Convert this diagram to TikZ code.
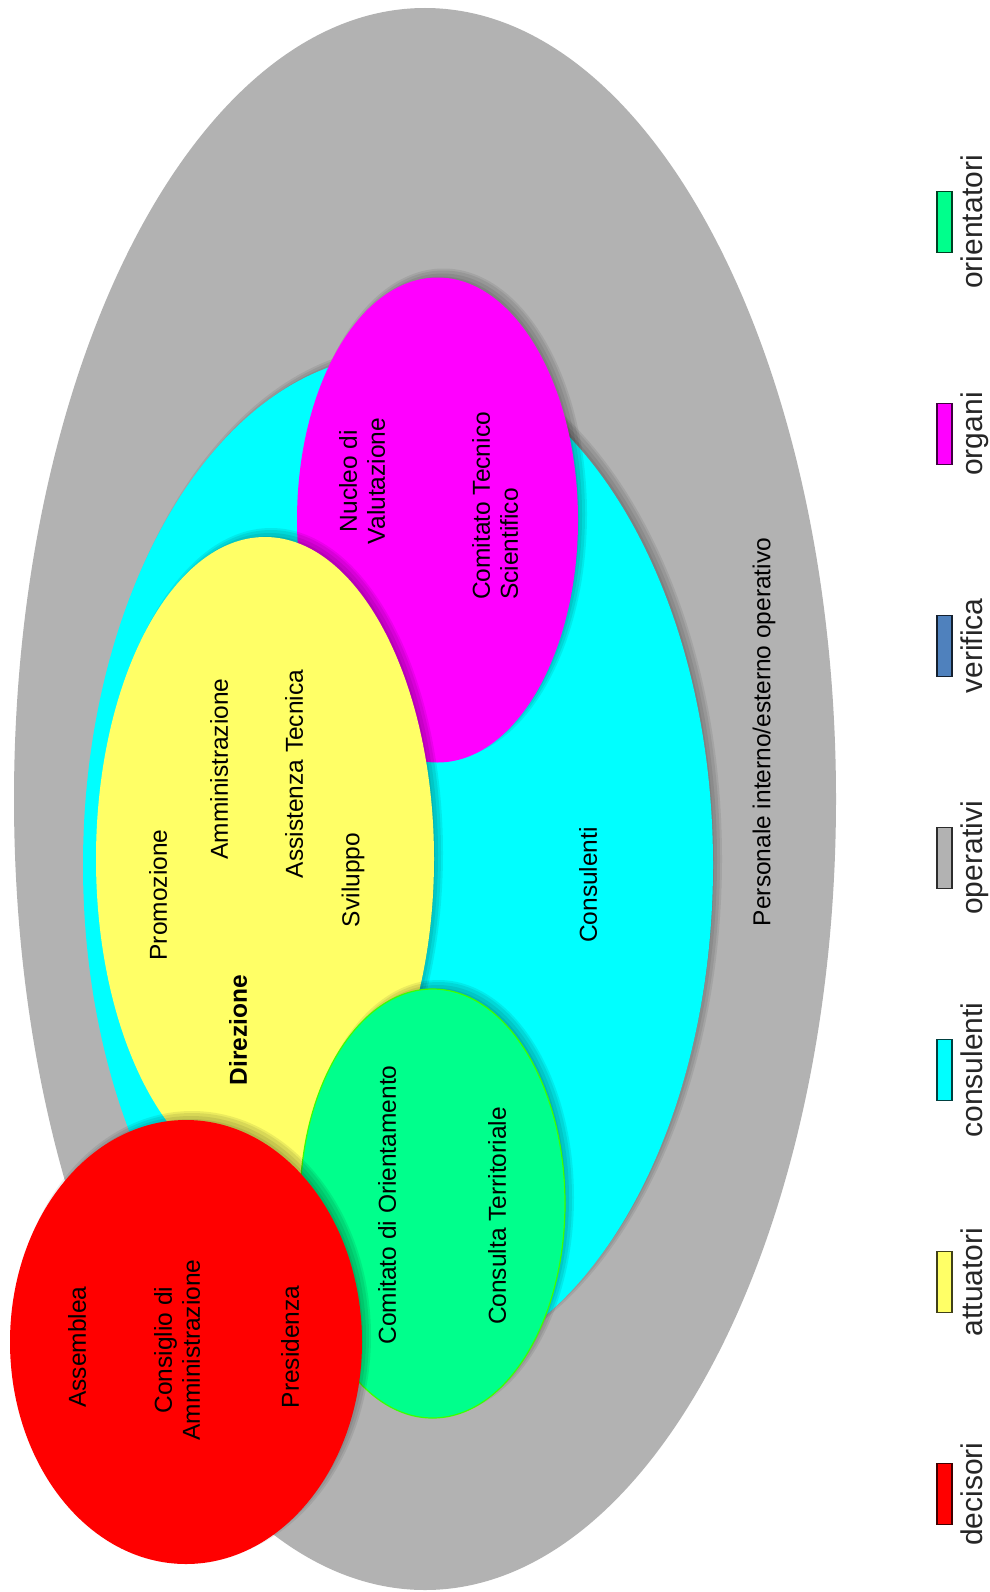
\documentclass[tikz,border=0pt]{standalone}
\usepackage{fontspec}
\setmainfont{Liberation Sans}
\usetikzlibrary{positioning}
\definecolor{cgray}{RGB}{178,178,178}
\definecolor{ccyan}{RGB}{0,255,255}
\definecolor{cmag}{RGB}{255,0,255}
\definecolor{cyel}{RGB}{255,255,102}
\definecolor{cgreen}{RGB}{0,255,140}
\definecolor{cgreenedge}{RGB}{60,255,0}
\definecolor{cred}{RGB}{255,0,0}
\definecolor{cblue}{RGB}{79,129,189}
\newcommand\dfont{\fontsize{24.5}{28}\selectfont}
\newcommand\lfont{\fontsize{30}{34}\selectfont}
\tikzset{
  dtext/.style={rotate=90,font=\dfont,inner sep=0pt,text=black},
  ltext/.style={rotate=90,font=\lfont,inner sep=0pt,text=black!85,anchor=base},
  legrect/.style={draw=#1!25!black,fill=#1,line width=1.8pt,minimum width=15pt,minimum height=61pt,inner sep=0pt},
  shade1/.style={fill=black,opacity=0.08},
}
\newcommand\softshadow[4]{%
  \fill[shade1] ({#1+6},{#2-6}) ellipse ({#3+3} and {#4+3});
  \fill[shade1] ({#1+6},{#2-6}) ellipse ({#3+1} and {#4+1});
  \fill[shade1] ({#1+5},{#2-5}) ellipse ({#3-1} and {#4-1});
  \fill[shade1] ({#1+4},{#2-4}) ellipse ({#3-3} and {#4-3});
}
\begin{document}
\begin{tikzpicture}[x=1pt,y=-1pt]
\useasboundingbox (0,0) rectangle (989,1592);
\fill[white] (0,0) rectangle (989,1592);
% operativi (gray)
\fill[cgray] (425,799) ellipse (411 and 791);
% consulenti (cyan)
\softshadow{398}{865}{315}{510}
\fill[ccyan] (398,865) ellipse (315 and 510);
% organi (magenta)
\softshadow{437.5}{520}{140.5}{242.5}
\fill[cmag] (437.5,520) ellipse (140.5 and 242.5);
% attuatori (yellow)
\softshadow{265}{859}{169}{322}
\fill[cyel] (265,859) ellipse (169 and 322);
% orientatori (green)
\softshadow{432.5}{1203.5}{132.5}{214.5}
\filldraw[fill=cgreen,draw=cgreenedge,line width=1.2pt] (432.5,1203.5) ellipse (132.5 and 214.5);
% decisori (red)
\softshadow{186}{1342}{176}{222}
\fill[cred] (186,1342) ellipse (176 and 222);

% texts
\node[dtext] (assemblea) at (77,1347) {Assemblea};
\node[dtext,align=center] (consiglio) at (177,1350) {Consiglio di\\Amministrazione};
\node[dtext] (presidenza) at (290,1347) {Presidenza};
\node[dtext] (comorient) at (387,1205) {Comitato di Orientamento};
\node[dtext] (consulta) at (497,1216) {Consulta Territoriale};
\node[dtext,font=\dfont\bfseries] (direzione) at (238,1030) {Direzione};
\node[dtext] (promozione) at (158,895) {Promozione};
\node[dtext] (amministrazione) at (219,769) {Amministrazione};
\node[dtext] (assistenza) at (294,774) {Assistenza Tecnica};
\node[dtext] (sviluppo) at (353,880) {Sviluppo};
\node[dtext] (consulenti) at (588,885) {Consulenti};
\node[dtext] (personale) at (764,732) {Personale interno/esterno operativo};
\node[dtext,align=center] (nucleo) at (362,481) {Nucleo di\\Valutazione};
\node[dtext,align=left] (comtecnico) at (495,506) {Comitato Tecnico\\Scientifico};

% legend
\node[legrect=cred] (r1) at (944.5,1494) {};
\node[legrect=cyel] (r2) at (944.5,1282) {};
\node[legrect=ccyan] (r3) at (944.5,1070) {};
\node[legrect=cgray] (r4) at (944.5,858) {};
\node[legrect=cblue] (r5) at (944.5,646) {};
\node[legrect=cmag] (r6) at (944.5,434) {};
\node[legrect=cgreen] (r7) at (944.5,222) {};
\node[ltext] (l1) at (982,1494) {decisori};
\node[ltext] (l2) at (982,1282) {attuatori};
\node[ltext] (l3) at (982,1070) {consulenti};
\node[ltext] (l4) at (982,858) {operativi};
\node[ltext] (l5) at (982,646) {verifica};
\node[ltext] (l6) at (982,434) {organi};
\node[ltext] (l7) at (982,222) {orientatori};
\end{tikzpicture}
\end{document}
